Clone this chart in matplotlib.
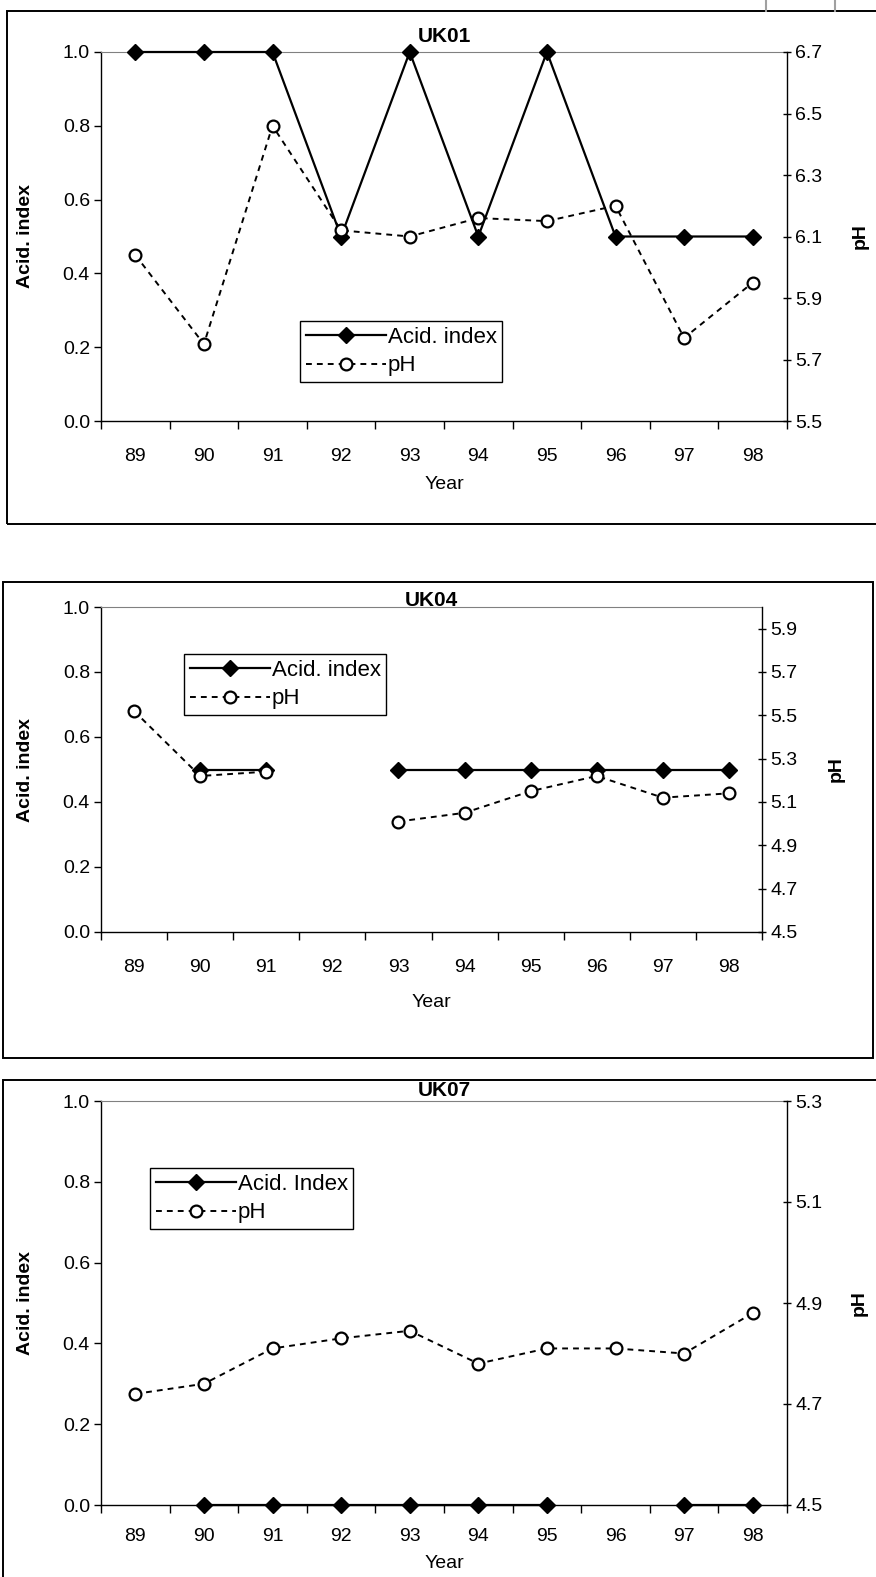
import numpy as np
import matplotlib
matplotlib.use("Agg")
import matplotlib.pyplot as plt
from matplotlib.lines import Line2D
from matplotlib.patches import Rectangle
from matplotlib.ticker import FixedLocator, NullFormatter

plt.rcParams['font.family'] = ['Liberation Sans', 'DejaVu Sans']

years = ['89', '90', '91', '92', '93', '94', '95', '96', '97', '98']

# UK01
uk01_acid = [1.0, 1.0, 1.0, 0.5, 1.0, 0.5, 1.0, 0.5, 0.5, 0.5]
uk01_ph = [6.04, 5.75, 6.46, 6.12, 6.10, 6.16, 6.15, 6.20, 5.77, 5.95]

# UK04 (no sample in 92, no acid index in 89)
uk04_acid = [np.nan, 0.5, 0.5, np.nan, 0.5, 0.5, 0.5, 0.5, 0.5, 0.5]
uk04_ph = [5.52, 5.22, 5.24, np.nan, 5.01, 5.05, 5.15, 5.22, 5.12, 5.14]

# UK07
uk07_acid = [np.nan, 0.0, 0.0, 0.0, 0.0, 0.0, 0.0, np.nan, 0.0, 0.0]
uk07_ph = [4.72, 4.74, 4.81, 4.83, 4.845, 4.78, 4.81, 4.81, 4.80, 4.88]

W, H = 876, 1577
FS = 14
fig = plt.figure(figsize=(W / 100, H / 100), dpi=100)


def fx(px):
    return px / W


def fy(py):
    return 1 - py / H


ACID_STYLE = dict(color='black', lw=1.6, marker='D', markersize=8,
                  markerfacecolor='black', markeredgecolor='black')
PH_STYLE = dict(color='black', lw=1.4, linestyle=(0, (3, 2.6)), marker='o',
                markersize=8.5, markerfacecolor='white',
                markeredgecolor='black', markeredgewidth=1.6)


def panel(box, area, title, title_y, acid, ph, ph_lim, ph_ticks, acid_name,
          leg_xy, ph_label_x, lab_y, year_y):
    # outer frame of the chart
    x0, y0, x1, y1 = box
    fig.add_artist(Rectangle((fx(x0), fy(y1)), fx(x1 - x0), (y1 - y0) / H,
                             transform=fig.transFigure, fill=False,
                             edgecolor='black', lw=1.4))
    l, t, r, b = area
    ax = fig.add_axes([fx(l), fy(b), fx(r - l), (b - t) / H])
    ax2 = ax.twinx()
    x = np.arange(len(years))

    ax.set_xlim(-0.5, len(years) - 0.5)
    ax.set_ylim(0, 1)
    ax2.set_ylim(*ph_lim)

    ax.spines['top'].set_color('#808080')
    ax.spines['right'].set_visible(False)
    ax2.spines['top'].set_visible(False)
    ax2.spines['left'].set_visible(False)
    ax2.spines['bottom'].set_visible(False)
    for s in ['left', 'bottom']:
        ax.spines[s].set_linewidth(1.0)
    ax2.spines['right'].set_linewidth(1.0)

    ax.set_xticks(x)
    ax.set_xticklabels(years, fontsize=FS)
    ax.tick_params(axis='x', which='major', length=0,
                   pad=(lab_y - b - 9) * 0.72)
    ax.xaxis.set_minor_locator(FixedLocator(np.arange(-0.5, len(years), 1.0)))
    ax.xaxis.set_minor_formatter(NullFormatter())
    ax.tick_params(axis='x', which='minor', length=6, width=1.0, direction='out')

    yt = np.arange(0, 1.01, 0.2)
    ax.set_yticks(yt)
    ax.set_yticklabels(['%.1f' % v for v in yt], fontsize=FS)
    ax.tick_params(axis='y', length=5, width=1.0, direction='out', pad=3)

    ax2.set_yticks(ph_ticks)
    ax2.set_yticklabels(['%.1f' % v for v in ph_ticks], fontsize=FS)
    ax2.tick_params(axis='y', length=6, width=1.0, direction='inout', pad=3)

    ax.set_xlabel('Year', fontsize=FS)
    ax.xaxis.set_label_coords(0.5, -(year_y - b) / (b - t))
    ax.set_ylabel('Acid. index', fontsize=FS, fontweight='bold')
    ax.yaxis.set_label_coords(-(l - 34) / (r - l), 0.5)
    ax2.set_ylabel('pH', fontsize=FS, fontweight='bold', rotation=90)
    ax2.yaxis.set_label_coords(1 + (ph_label_x - r) / (r - l), 0.5)

    ax.plot(x, acid, clip_on=False, zorder=5, **ACID_STYLE)
    ax2.plot(x, ph, clip_on=False, zorder=6, **PH_STYLE)

    h_acid = Line2D([], [], **ACID_STYLE)
    h_ph = Line2D([], [], **PH_STYLE)
    leg = fig.legend([h_acid, h_ph], [acid_name, 'pH'], loc='upper left',
                     bbox_to_anchor=(fx(leg_xy[0]), fy(leg_xy[1])),
                     bbox_transform=fig.transFigure, borderaxespad=0,
                     fontsize=16, frameon=True, fancybox=False, shadow=False,
                     framealpha=1, edgecolor='black', handlelength=3.6,
                     handletextpad=0.1, labelspacing=0.35, borderpad=0.25,
                     numpoints=1)
    leg.get_frame().set_linewidth(1.0)

    fig.text(fx((l + r) / 2), fy(title_y), title, ha='center', va='center',
             fontsize=15, fontweight='bold')
    return ax, ax2


panel((7, 11, 880, 524), (101, 52, 787, 421), 'UK01', 37,
      uk01_acid, uk01_ph, (5.5, 6.7), np.arange(5.5, 6.71, 0.2),
      'Acid. index', (300, 321), 852, 457, 476)

panel((3, 582, 873, 1058), (101, 607, 762, 932), 'UK04', 601,
      uk04_acid, uk04_ph, (4.5, 6.0), np.arange(4.5, 5.91, 0.2),
      'Acid. index', (184, 654), 828, 968, 994)

panel((3, 1080, 880, 1600), (101, 1101, 787, 1505), 'UK07', 1090,
      uk07_acid, uk07_ph, (4.5, 5.3), np.arange(4.5, 5.31, 0.2),
      'Acid. Index', (150, 1168), 851, 1537, 1555)

# bits of the neighbouring window frame at the top edge
for px in (766, 835):
    fig.add_artist(Line2D([fx(px), fx(px)], [fy(0), fy(11)],
                          transform=fig.transFigure, color='#a0a0a0', lw=1.5))

fig.savefig('out.png', dpi=100)
